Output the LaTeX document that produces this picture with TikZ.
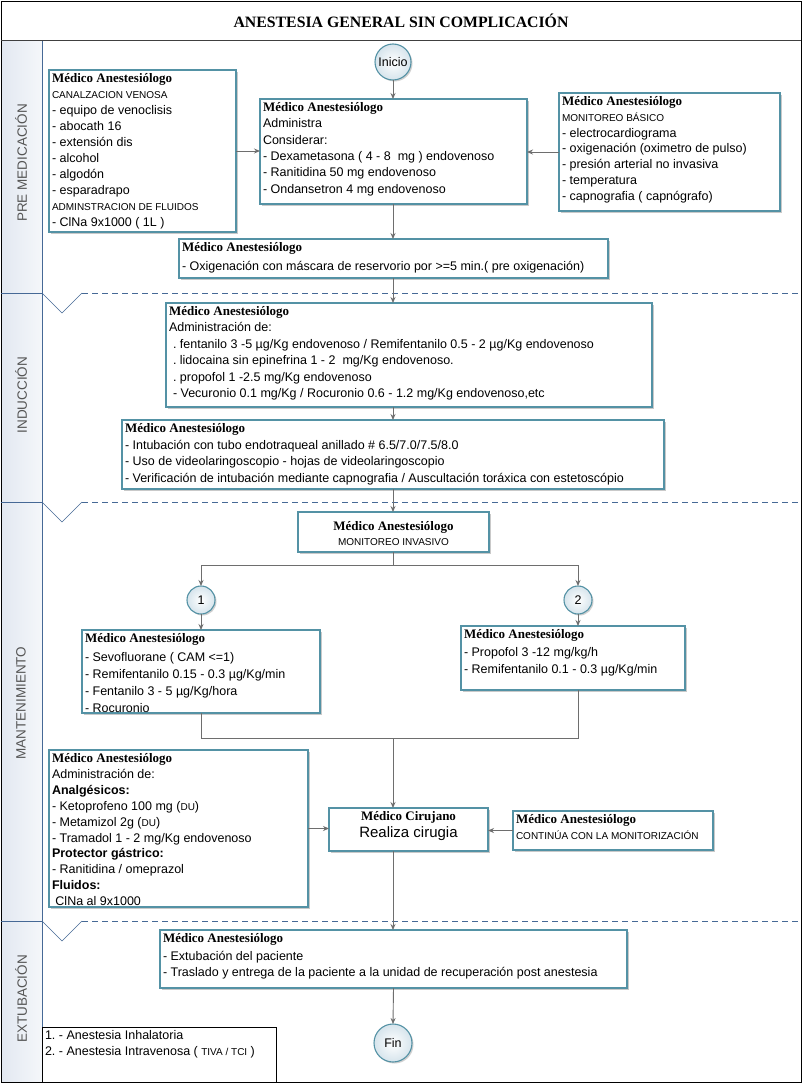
\documentclass[tikz,border=0pt]{standalone}
\usepackage{fontspec}
\setmainfont{Liberation Sans}
\newfontfamily\hdfont{Liberation Serif}
\usetikzlibrary{arrows.meta,shadows,calc}
\frenchspacing
\definecolor{boxc}{RGB}{84,146,165}
\definecolor{arrc}{RGB}{110,110,110}
\definecolor{lanec}{RGB}{70,105,150}
\definecolor{lanefill}{RGB}{226,232,241}
\definecolor{lbl}{RGB}{85,85,85}
\definecolor{circfill}{RGB}{214,228,236}
\newcommand{\bs}[1]{\fontsize{12.5}{#1}\selectfont}
\newcommand{\hd}[1]{{\hdfont\bfseries\fontsize{13}{13}\selectfont #1}}
\newcommand{\sm}[1]{{\fontsize{10}{10}\selectfont #1}}
\newcommand{\bx}[7]{\node[box] (#1) at (#2,#3) {\parbox[c][\dimexpr#5pt-3pt\relax][t]{\dimexpr#4pt-6pt\relax}{\raggedright\frenchspacing\bs{#6}\rule{0pt}{11pt}#7}};}
\begin{document}
\begin{tikzpicture}[x=1pt,y=-1pt,
  box/.style={rectangle, draw=boxc, line width=1.1pt, fill=white,
    drop shadow={shadow xshift=2pt, shadow yshift=-2pt, opacity=.35, fill=black!60},
    inner xsep=3pt, inner ysep=1.5pt, outer sep=0pt, anchor=north west},
  circ/.style={circle, draw=boxc, line width=1.1pt, inner color=white, outer color=circfill,
    drop shadow={shadow xshift=1.5pt, shadow yshift=-1.5pt, opacity=.3, fill=black!60},
    inner sep=0pt, outer sep=0pt, font=\fontsize{12.5}{14}\selectfont},
  arr/.style={draw=arrc, line width=0.9pt, -{Stealth[length=6pt,width=5pt]}},
  ln/.style={draw=arrc, line width=0.9pt},
  lane/.style={font=\fontsize{13.5}{15}\selectfont, text=lbl, rotate=90},
  sep/.style={draw=lanec, line width=0.8pt},
  dsep/.style={draw=lanec, line width=0.8pt, dash pattern=on 6pt off 4pt},
]
\useasboundingbox (0,0) rectangle (803,1084);
\fill[white] (0,0) rectangle (803,1084);
% lane column
\shade[left color=lanefill, right color=lanefill!35] (1,40) rectangle (42,1082);
\draw[sep] (1,40) rectangle (42,1082);
% outer frame and title
\draw[black, line width=1pt] (1,1) rectangle (801,1082);
\draw[black!75, line width=1pt] (1,40) -- (801,40);
\node[font=\hdfont\bfseries\fontsize{15.8}{17}\selectfont] (title) at (401,21) {ANESTESIA GENERAL SIN COMPLICACIÓN};
% lane separators
\foreach \yy in {293,502,921}{
  \draw[sep] (1,\yy) -- (42,\yy);
  \draw[draw=lanec, line width=0.6pt] (42,\yy) -- (62,\yy+20) -- (82,\yy);
  \draw[dsep] (82,\yy) -- (801,\yy);
}
\node[lane] (l1) at (21,163) {PRE MEDICACIÓN};
\node[lane] (l2) at (21,395) {INDUCCIÓN};
\node[lane] (l3) at (21,703) {MANTENIMIENTO};
\node[lane] (l4) at (21,999) {EXTUBACIÓN};
% nodes
\node[circ, minimum size=36pt] (ini) at (393,62) {Inicio};
\bx{L}{49}{70}{187}{162}{16}{\hd{Médico Anestesiólogo}\\
\sm{CANALZACION VENOSA}\\
- equipo de venoclisis\\
- abocath 16\\
- extensión dis\\
- alcohol\\
- algodón\\
- esparadrapo\\
\sm{ADMINSTRACION DE FLUIDOS}\\
- ClNa 9x1000 ( 1L )}
\bx{M}{260}{99}{267}{105}{16.3}{\hd{Médico Anestesiólogo}\\
Administra\\
Considerar:\\
- Dexametasona ( 4 - 8 \ mg ) endovenoso\\
- Ranitidina 50 mg endovenoso\\
- Ondansetron 4 mg endovenoso}
\bx{R}{559}{93}{221}{118}{15.8}{\hd{Médico Anestesiólogo}\\
\sm{MONITOREO BÁSICO}\\
- electrocardiograma\\
- oxigenación (oximetro de pulso)\\
- presión arterial no invasiva\\
- temperatura\\
- capnografia ( capnógrafo)}
\bx{O}{179}{239}{429}{39}{18.5}{\hd{Médico Anestesiólogo}\\
- Oxigenación con máscara de reservorio por >=5 min.( pre oxigenación)}
\bx{I1}{166}{303}{486}{104}{16.4}{\hd{Médico Anestesiólogo}\\
Administración de:\\
\hspace*{4pt}. fentanilo 3 -5 µg/Kg endovenoso / Remifentanilo 0.5 - 2 µg/Kg endovenoso\\
\hspace*{4pt}. lidocaina sin epinefrina 1 - 2 \ mg/Kg endovenoso.\\
\hspace*{4pt}. propofol 1 -2.5 mg/Kg endovenoso\\
\hspace*{4pt}- Vecuronio 0.1 mg/Kg / Rocuronio 0.6 - 1.2 mg/Kg endovenoso,etc}
\bx{I2}{122}{420}{542}{69}{16.7}{\hd{Médico Anestesiólogo}\\
- Intubación con tubo endotraqueal anillado \# 6.5/7.0/7.5/8.0\\
- Uso de videolaringoscopio - hojas de videolaringoscopio\\
- Verificación de intubación mediante capnografia / Auscultación toráxica con estetoscópio}
\node[box] (MI) at (298,512) {\parbox[c][37pt][t]{185pt}{\centering\bs{15}\rule{0pt}{16.5pt}\hd{Médico Anestesiólogo}\\ \sm{MONITOREO INVASIVO}}};
\node[circ, minimum size=28pt] (C1) at (201,600) {1};
\node[circ, minimum size=28pt] (C2) at (578,600) {2};
\bx{B1}{82}{630}{238}{83}{17}{\hd{Médico Anestesiólogo}\\[2pt]
- Sevofluorane ( CAM <=1)\\
- Remifentanilo 0.15 - 0.3 µg/Kg/min\\
- Fentanilo 3 - 5 µg/Kg/hora\\
- Rocuronio}
\bx{B2}{461}{626}{224}{64}{17}{\hd{Médico Anestesiólogo}\\[1pt]
- Propofol 3 -12 mg/kg/h\\
- Remifentanilo 0.1 - 0.3 µg/Kg/min}
\bx{A}{49}{750}{259}{157}{15.9}{\hd{Médico Anestesiólogo}\\
Administración de:\\
\textbf{Analgésicos:}\\
- Ketoprofeno 100 mg (\sm{DU})\\
- Metamizol 2g (\sm{DU})\\
- Tramadol 1 - 2 mg/Kg endovenoso\\
\textbf{Protector gástrico:}\\
- Ranitidina / omeprazol\\
\textbf{Fluidos:}\\
\ ClNa al 9x1000}
\node[box] (S) at (329,808) {\parbox[c][40pt][t]{153pt}{\centering\bs{17}\rule{0pt}{11pt}\hd{Médico Cirujano}\\ {\fontsize{15}{17}\selectfont Realiza cirugia}}};
\bx{K}{513}{811}{200}{39}{16}{\hd{Médico Anestesiólogo}\\
\sm{CONTINÚA CON LA MONITORIZACIÓN}}
\bx{E}{160}{930}{467}{58}{16.5}{\hd{Médico Anestesiólogo}\\[1pt]
- Extubación del paciente\\
- Traslado y entrega de la paciente a la unidad de recuperación post anestesia}
\node[circ, minimum size=38pt] (F) at (393,1043) {Fin};
\node[rectangle, draw=black, line width=0.8pt, fill=white, anchor=north west, inner xsep=3pt, inner ysep=1.5pt, outer sep=0pt] (leg) at (42,1027) {\parbox[c][52pt][t]{228pt}{\raggedright\frenchspacing\bs{16}\rule{0pt}{11pt}1. - Anestesia Inhalatoria\\
2. - Anestesia Intravenosa ( \sm{TIVA / TCI} )}};
% connectors
\coordinate (ax) at (393,0);
\draw[arr] (ini.south) -- (ini.south |- M.north);
\draw[arr] (L.east) -- (L.east -| M.west);
\draw[arr] (R.west) -- (R.west -| M.east);
\draw[arr] (ax |- M.south) -- (ax |- O.north);
\draw[arr] (ax |- O.south) -- (ax |- I1.north);
\draw[arr] (ax |- I1.south) -- (ax |- I2.north);
\draw[arr] (ax |- I2.south) -- (ax |- MI.north);
\draw[ln] (ax |- MI.south) -- ++(0,13) coordinate (j1);
\draw[arr] (j1) -| (C1.north);
\draw[arr] (j1) -| (C2.north);
\draw[arr] (C1.south) -- (C1.south |- B1.north);
\draw[arr] (C2.south) -- (C2.south |- B2.north);
\coordinate (j2) at (393,738);
\draw[ln] (C1.south |- B1.south) -- (C1.south |- j2) -- (C2.south |- j2) -- (C2.south |- B2.south);
\draw[arr] (j2) -- (j2 |- S.north);
\draw[arr] (A.east) -- (A.east -| S.west);
\draw[arr] (K.west) -- (K.west -| S.east);
\draw[arr] (ax |- S.south) -- (ax |- E.north);
\draw[arr] (E.south) -- (F.north);
\end{tikzpicture}
\end{document}
